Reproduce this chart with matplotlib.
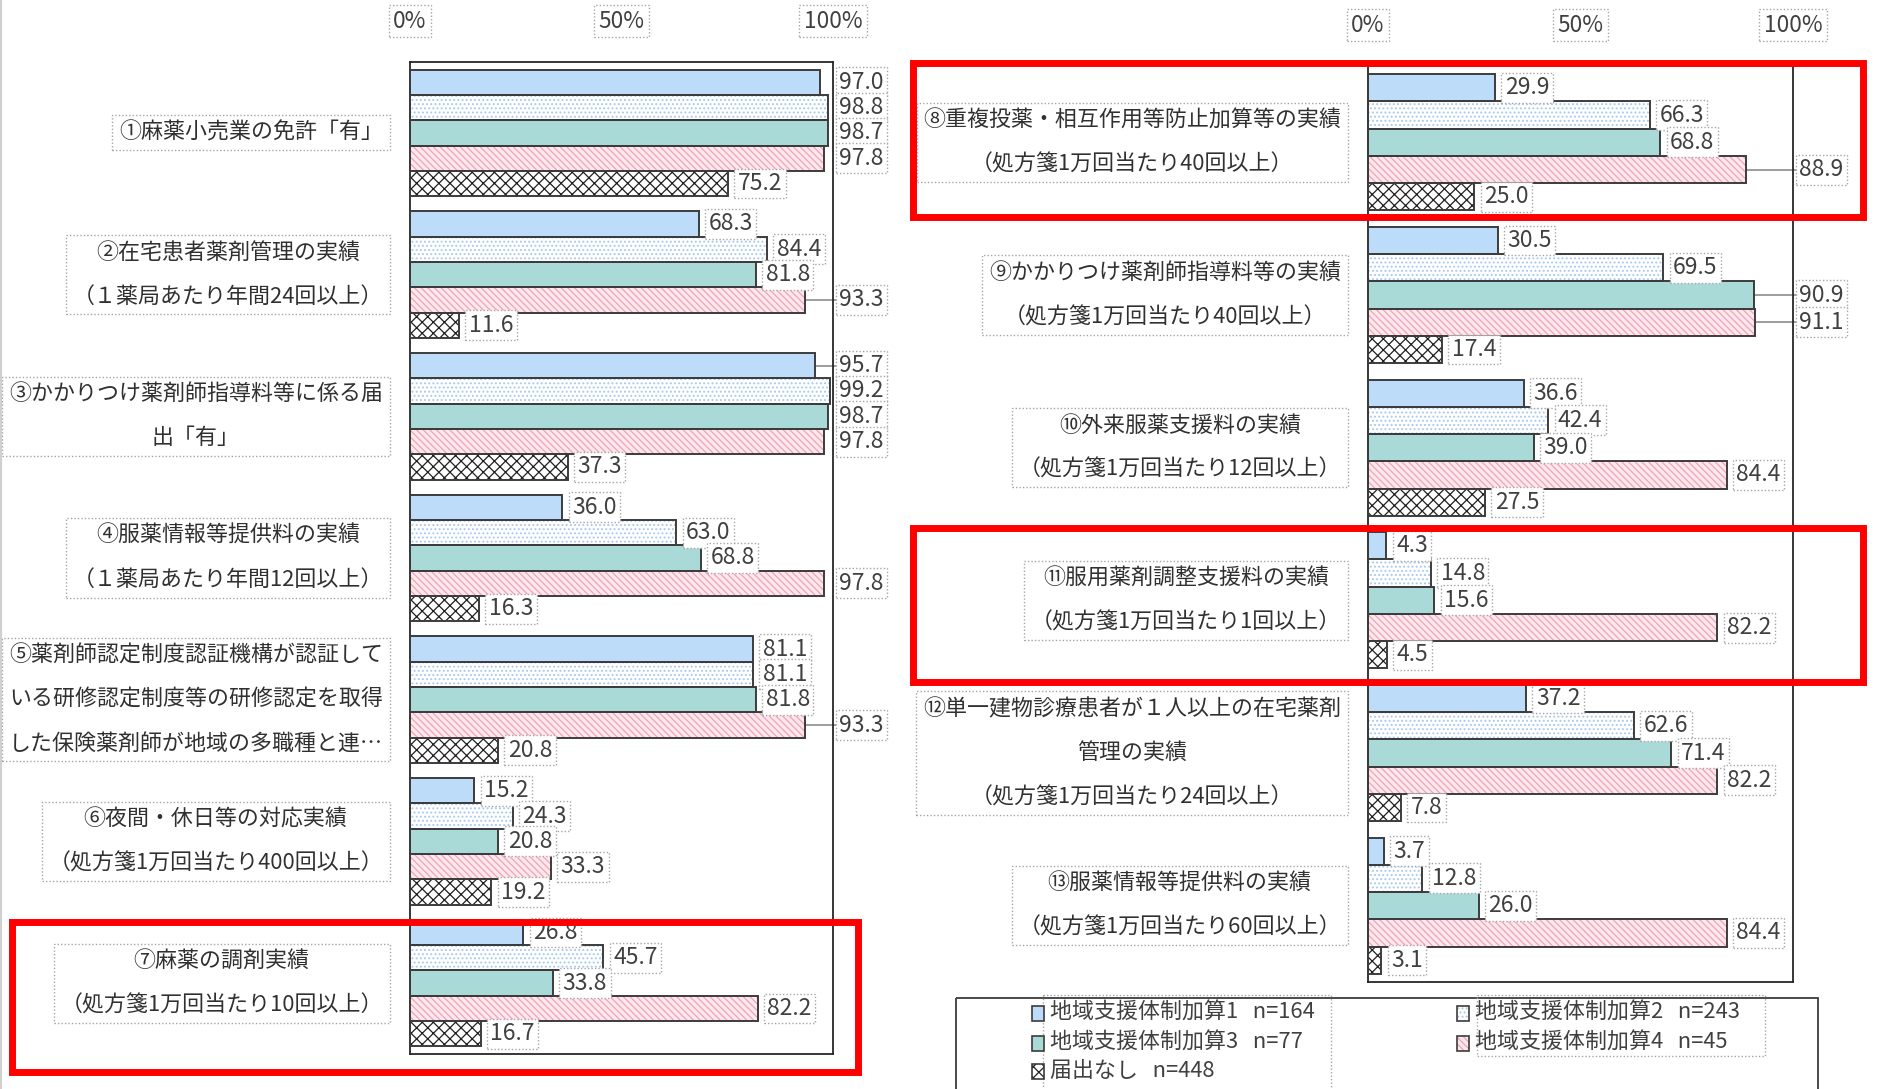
import numpy as np
import matplotlib.pyplot as plt
import matplotlib.transforms as mtransforms
from matplotlib.patches import Rectangle

plt.rcParams['font.family'] = ['Noto Sans CJK JP', 'DejaVu Sans']
plt.rcParams['hatch.linewidth'] = 0.9

# --- data (percent) ---------------------------------------------------------
series_names = ['地域支援体制加算1   n=164', '地域支援体制加算2   n=243',
                '地域支援体制加算3   n=77', '地域支援体制加算4   n=45',
                '届出なし   n=448']

left_cats = [
    '①麻薬小売業の免許「有」',
    '②在宅患者薬剤管理の実績\n（１薬局あたり年間24回以上）',
    '③かかりつけ薬剤師指導料等に係る届\n出「有」',
    '④服薬情報等提供料の実績\n（１薬局あたり年間12回以上）',
    '⑤薬剤師認定制度認証機構が認証して\nいる研修認定制度等の研修認定を取得\nした保険薬剤師が地域の多職種と連…',
    '⑥夜間・休日等の対応実績\n（処方箋1万回当たり400回以上）',
    '⑦麻薬の調剤実績\n（処方箋1万回当たり10回以上）',
]
left_kasan1 = [97.0, 68.3, 95.7, 36.0, 81.1, 15.2, 26.8]
left_kasan2 = [98.8, 84.4, 99.2, 63.0, 81.1, 24.3, 45.7]
left_kasan3 = [98.7, 81.8, 98.7, 68.8, 81.8, 20.8, 33.8]
left_kasan4 = [97.8, 93.3, 97.8, 97.8, 93.3, 33.3, 82.2]
left_none = [75.2, 11.6, 37.3, 16.3, 20.8, 19.2, 16.7]

right_cats = [
    '⑧重複投薬・相互作用等防止加算等の実績\n（処方箋1万回当たり40回以上）',
    '⑨かかりつけ薬剤師指導料等の実績\n（処方箋1万回当たり40回以上）',
    '⑩外来服薬支援料の実績\n（処方箋1万回当たり12回以上）',
    '⑪服用薬剤調整支援料の実績\n（処方箋1万回当たり1回以上）',
    '⑫単一建物診療患者が１人以上の在宅薬剤\n管理の実績\n（処方箋1万回当たり24回以上）',
    '⑬服薬情報等提供料の実績\n（処方箋1万回当たり60回以上）',
]
right_kasan1 = [29.9, 30.5, 36.6, 4.3, 37.2, 3.7]
right_kasan2 = [66.3, 69.5, 42.4, 14.8, 62.6, 12.8]
right_kasan3 = [68.8, 90.9, 39.0, 15.6, 71.4, 26.0]
right_kasan4 = [88.9, 91.1, 84.4, 82.2, 82.2, 84.4]
right_none = [25.0, 17.4, 27.5, 4.5, 7.8, 3.1]

# --- styles -----------------------------------------------------------------
STYLES = [
    dict(face='#bddcfa', hatch=None, hcolor='#bddcfa'),
    dict(face='white', hatch='....', hcolor='#a9c9ee'),
    dict(face='#a9dad7', hatch=None, hcolor='#a9dad7'),
    dict(face='#fde8ee', hatch='\\\\\\\\\\', hcolor='#f1a3b6'),
    dict(face='white', hatch='xxx', hcolor='#202020'),
]
EDGE = '#3c3c3c'
GROUP = 5.6
DOT_BOX = dict(boxstyle='square,pad=0.15', fc='white', ec='#a6a6a6',
               ls=(0, (1, 1.5)), lw=1.0)
FS = 15.8
W, H = 1878, 1089

fig = plt.figure(figsize=(W / 100, H / 100), dpi=100)


def px_axes(x0, y0, x1, y1):
    return fig.add_axes([x0 / W, 1 - y1 / H, (x1 - x0) / W, (y1 - y0) / H])


def draw_panel(ax, cats, series_vals):
    n = len(cats)
    centers = np.arange(n) * GROUP
    for j, vals in enumerate(series_vals):
        st = STYLES[j]
        y = centers - 2 + j
        ax.barh(y, vals, height=1.0, color=st['face'], hatch=st['hatch'],
                edgecolor=st['hcolor'], linewidth=0, zorder=2)
        ax.barh(y, vals, height=1.0, fill=False, edgecolor=EDGE,
                linewidth=1.4, zorder=3)
        for yy, v in zip(y, vals):
            lx = v + 1.4
            # labels that would cross the plot frame are pushed outside it
            if lx + 13.5 > 100.5:
                lx = max(lx, 100.6)
                if lx - v > 4:
                    ax.plot([v, lx], [yy, yy], color='#8c8c8c', lw=1.2,
                            zorder=1, clip_on=False)
            ax.text(lx + 0.9, yy, f'{v:.1f}', ha='left', va='center',
                    fontsize=16.5, color='#404040', bbox=DOT_BOX, zorder=4)

    lab_trans = mtransforms.offset_copy(
        mtransforms.blended_transform_factory(ax.transAxes, ax.transData),
        fig=fig, x=-27, y=0, units='dots')
    for c, lab in zip(centers, cats):
        ax.text(0, c, lab, transform=lab_trans, ha='right', va='center',
                multialignment='center', linespacing=2.3, fontsize=FS,
                color='#303030',
                bbox=dict(boxstyle='square,pad=0.3', fc='none', ec='#a6a6a6',
                          ls=(0, (1, 1.5)), lw=1.0))

    ax.set_xlim(0, 100)
    ax.set_ylim(n * GROUP - GROUP / 2, -GROUP / 2)
    ax.xaxis.tick_top()
    ax.set_xticks([0, 50, 100])
    ax.set_xticklabels(['0%', '50%', '100%'])
    ax.tick_params(axis='x', length=0, pad=21, labelsize=16.3, colors='#404040')
    ax.set_yticks([])
    for t in ax.get_xticklabels():
        t.set_bbox(dict(boxstyle='square,pad=0.2', fc='none', ec='#a6a6a6',
                        ls=(0, (1, 1.5)), lw=1.0))
    for s in ax.spines.values():
        s.set_color('#262626')
        s.set_linewidth(1.3)


ax_l = px_axes(410, 62, 833, 1054)
draw_panel(ax_l, left_cats,
           [left_kasan1, left_kasan2, left_kasan3, left_kasan4, left_none])

ax_r = px_axes(1368, 66, 1793, 982)
draw_panel(ax_r, right_cats,
           [right_kasan1, right_kasan2, right_kasan3, right_kasan4, right_none])

# --- overlay: legend, red highlight boxes ----------------------------------
ov = fig.add_axes([0, 0, 1, 1], zorder=10)
ov.set_xlim(0, W)
ov.set_ylim(H, 0)
ov.axis('off')
ov.patch.set_alpha(0)

ov.plot([1, 1], [0, H], color='#d0d0d0', lw=1.5)

ov.add_patch(Rectangle((956, 998), 1818 - 956, 120, fill=False,
                       ec='#3c3c3c', lw=1.3))
ov.add_patch(Rectangle((1043, 995), 1331 - 1043, 120, fill=False,
                       ec='#a6a6a6', ls=(0, (1, 1.5)), lw=1.0))
ov.add_patch(Rectangle((1477, 995), 1765 - 1477, 1056 - 995, fill=False,
                       ec='#a6a6a6', ls=(0, (1, 1.5)), lw=1.0))

legend_pos = [(1038, 1013), (1463, 1013), (1038, 1043), (1463, 1043),
              (1038, 1071)]
for (mx, my), st, name in zip(legend_pos, STYLES, series_names):
    ov.add_patch(Rectangle((mx - 6, my - 7), 12, 15, fc=st['face'],
                           hatch=st['hatch'], ec=st['hcolor'], lw=0))
    ov.add_patch(Rectangle((mx - 6, my - 7), 12, 15, fill=False,
                           ec=EDGE, lw=1.2))
    ov.text(mx + 12, my, name, ha='left', va='center', fontsize=FS,
            color='#404040')

for (x0, y0, x1, y1) in [(12, 922, 858, 1072), (913, 63, 1863, 217),
                         (913, 528, 1863, 682)]:
    ov.add_patch(Rectangle((x0, y0), x1 - x0, y1 - y0, fill=False,
                           ec='#ff0000', lw=5))

fig.savefig('out.png', dpi=100)
